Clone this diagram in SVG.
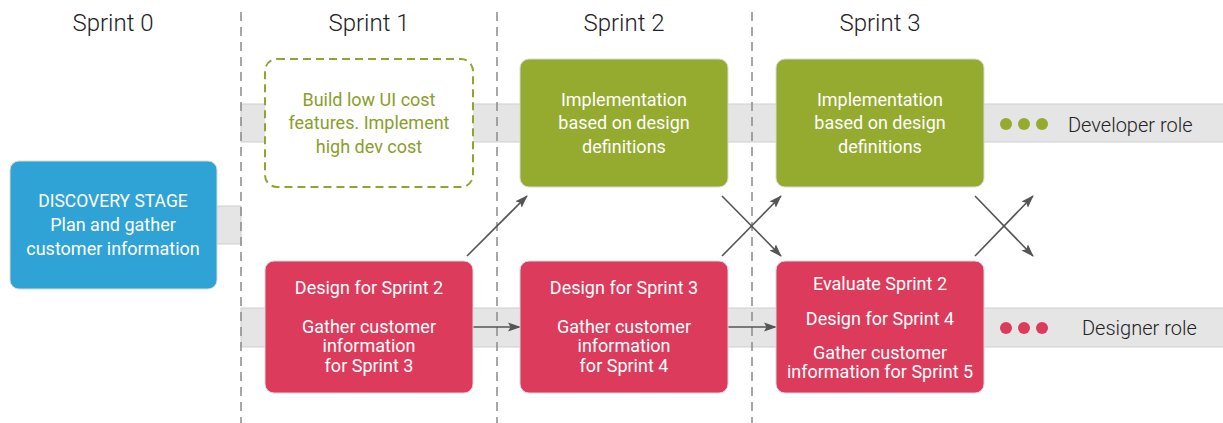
<svg xmlns="http://www.w3.org/2000/svg" width="1223" height="423" viewBox="0 0 1223 423">
  <style>
    .title { font-family: Roboto, "Liberation Sans", sans-serif; font-weight: 300; font-size: 24px; fill: #222; text-anchor: middle; }
    .role { font-family: Roboto, "Liberation Sans", sans-serif; font-weight: 300; font-size: 20px; fill: #222; }
    .lbl { font-family: Roboto, "Liberation Sans", sans-serif; font-size: 18px; fill: #fff; text-anchor: middle; }
    .lbl-olive { fill: #8a9e2a; }
    .band { fill: #e5e5e5; stroke: #cfcfcf; stroke-width: 1; }
    .sep { stroke: #8a8a8a; stroke-width: 1.5; stroke-dasharray: 9 6; fill: none; }
    .box { stroke: #d8d8d8; stroke-width: 1; }
    .blue { fill: #2fa3d6; }
    .green { fill: #95ab30; }
    .red { fill: #dc3b5c; }
    .planned { fill: #fff; stroke: #8fa52e; stroke-width: 2; stroke-dasharray: 8 5; }
    .arrow { stroke: #555; stroke-width: 1.6; fill: none; marker-end: url(#head); }
  </style>
  <defs>
    <marker id="head" viewBox="0 0 13 10" refX="12" refY="5" markerWidth="13" markerHeight="10" markerUnits="userSpaceOnUse" orient="auto">
      <path d="M0,0.5 L13,5 L0,9.5 L2.5,5 z" fill="#555"/>
    </marker>
  </defs>

  <!-- swimlane bands -->
  <g id="bands">
    <rect class="band" x="217" y="206" width="24" height="38"/>
    <rect class="band" x="241" y="104" width="983" height="38"/>
    <rect class="band" x="241" y="308" width="983" height="39"/>
  </g>

  <!-- sprint separators -->
  <g id="separators">
    <line class="sep" x1="241" y1="12" x2="241" y2="423"/>
    <line class="sep" x1="497" y1="12" x2="497" y2="423"/>
    <line class="sep" x1="752" y1="12" x2="752" y2="423"/>
  </g>

  <!-- sprint headings -->
  <g id="headings">
    <text class="title" x="113" y="31">Sprint 0</text>
    <text class="title" x="369" y="31">Sprint 1</text>
    <text class="title" x="624" y="31">Sprint 2</text>
    <text class="title" x="880" y="31">Sprint 3</text>
  </g>

  <!-- connectors -->
  <g id="connectors">
    <line class="arrow" x1="467" y1="256" x2="527" y2="196"/>
    <line class="arrow" x1="473" y1="327" x2="520" y2="327"/>
    <line class="arrow" x1="722" y1="196" x2="781" y2="256"/>
    <line class="arrow" x1="722" y1="256" x2="781" y2="196"/>
    <line class="arrow" x1="728" y1="327" x2="776" y2="327"/>
    <line class="arrow" x1="975" y1="196" x2="1033" y2="256"/>
    <line class="arrow" x1="975" y1="256" x2="1033" y2="196"/>
  </g>

  <!-- discovery -->
  <g id="discovery">
    <rect class="box blue" x="10" y="161" width="207" height="128" rx="9"/>
    <text class="lbl" x="113" y="207" style="font-size:17.5px">DISCOVERY STAGE</text>
    <text class="lbl" x="113" y="231">Plan and gather</text>
    <text class="lbl" x="113" y="255">customer information</text>
  </g>

  <!-- developer lane -->
  <g id="dev-sprint1">
    <rect class="planned" x="265" y="59" width="208" height="128" rx="12"/>
    <text class="lbl lbl-olive" x="369" y="106">Build low UI cost</text>
    <text class="lbl lbl-olive" x="369" y="129">features. Implement</text>
    <text class="lbl lbl-olive" x="369" y="153">high dev cost</text>
  </g>
  <g id="dev-sprint2">
    <rect class="box green" x="520" y="59" width="208" height="128" rx="9"/>
    <text class="lbl" x="624" y="106">Implementation</text>
    <text class="lbl" x="624" y="129">based on design</text>
    <text class="lbl" x="624" y="153">definitions</text>
  </g>
  <g id="dev-sprint3">
    <rect class="box green" x="776" y="59" width="208" height="128" rx="9"/>
    <text class="lbl" x="880" y="106">Implementation</text>
    <text class="lbl" x="880" y="129">based on design</text>
    <text class="lbl" x="880" y="153">definitions</text>
  </g>
  <g id="developer-role">
    <circle cx="1006" cy="124" r="6" fill="#95ab30"/>
    <circle cx="1024" cy="124" r="6" fill="#95ab30"/>
    <circle cx="1042" cy="124" r="6" fill="#95ab30"/>
    <text class="role" x="1068" y="132">Developer role</text>
  </g>

  <!-- designer lane -->
  <g id="design-sprint1">
    <rect class="box red" x="265" y="261" width="208" height="132" rx="9"/>
    <text class="lbl" x="369" y="294">Design for Sprint 2</text>
    <text class="lbl" x="369" y="333">Gather customer</text>
    <text class="lbl" x="369" y="352">information</text>
    <text class="lbl" x="369" y="372">for Sprint 3</text>
  </g>
  <g id="design-sprint2">
    <rect class="box red" x="520" y="261" width="208" height="132" rx="9"/>
    <text class="lbl" x="624" y="294">Design for Sprint 3</text>
    <text class="lbl" x="624" y="333">Gather customer</text>
    <text class="lbl" x="624" y="352">information</text>
    <text class="lbl" x="624" y="372">for Sprint 4</text>
  </g>
  <g id="design-sprint3">
    <rect class="box red" x="776" y="261" width="208" height="132" rx="9"/>
    <text class="lbl" x="880" y="290">Evaluate Sprint 2</text>
    <text class="lbl" x="880" y="325">Design for Sprint 4</text>
    <text class="lbl" x="880" y="359">Gather customer</text>
    <text class="lbl" x="880" y="378">information for Sprint 5</text>
  </g>
  <g id="designer-role">
    <circle cx="1006" cy="328" r="6" fill="#dc3b5c"/>
    <circle cx="1024" cy="328" r="6" fill="#dc3b5c"/>
    <circle cx="1042" cy="328" r="6" fill="#dc3b5c"/>
    <text class="role" x="1082" y="335">Designer role</text>
  </g>
</svg>
